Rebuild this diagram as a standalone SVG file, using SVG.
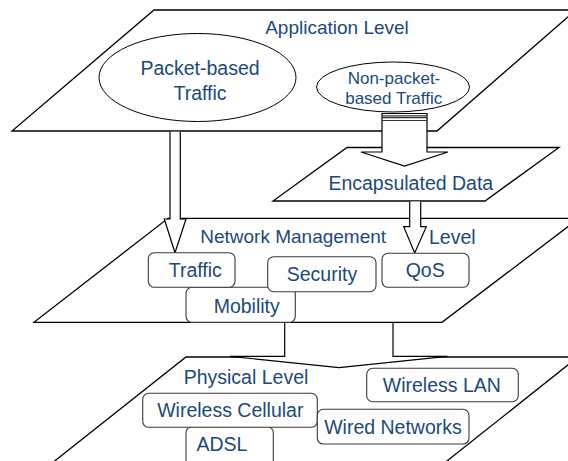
<svg xmlns="http://www.w3.org/2000/svg" width="568" height="461" viewBox="0 0 568 461">
<style>
.plane{fill:#fff;stroke:#000;stroke-width:1.3;stroke-linejoin:miter}
.ell{fill:#fff;stroke:#000;stroke-width:1}
.arr{fill:#fff;stroke:#000;stroke-width:1.2;stroke-linejoin:miter}
.node{fill:#fff;stroke:#3a3a3a;stroke-width:1.1}
.t{font-family:"Liberation Sans",Arial,sans-serif;font-size:19.5px;fill:#1b4a7a;text-anchor:middle}
.stripe{stroke:#333;stroke-width:1.2}
</style>
<rect width="568" height="461" fill="#fff"/>
<g id="application-level">
<polygon class="plane" points="154,10 576,10 437,131 12,131"/>
<text class="t" x="337" y="34" style="font-size:19px">Application Level</text>
</g>
<g id="packet-based-traffic">
<ellipse class="ell" cx="197.5" cy="77.5" rx="98.5" ry="44"/>
<text class="t" x="200" y="75">Packet-based</text>
<text class="t" x="200" y="100">Traffic</text>
</g>
<g id="non-packet-based-traffic">
<ellipse class="ell" cx="393" cy="87" rx="76.5" ry="25"/>
<text class="t" x="394" y="84" style="font-size:17px">Non-packet-</text>
<text class="t" x="393.7" y="104" style="font-size:17px">based Traffic</text>
</g>
<g id="encapsulated-data">
<polygon class="plane" points="347,147.5 559,147.5 485,201 273,201"/>
<text class="t" x="410.8" y="190">Encapsulated Data</text>
</g>
<g id="network-management-level">
<polygon class="plane" points="168,218.3 579,218.3 442,322.3 34,322.3"/>
<text class="t" x="293.2" y="243" style="font-size:19px">Network Management</text>
<text class="t" x="452.3" y="243.5">Level</text>
</g>
<g id="connectors">
<path class="arr" d="M382,113.5 L382,152 L361,152 L404.5,166 L448,152 L427,152 L427,113.5 Z"/>
<line class="stripe" x1="382" y1="115.8" x2="427" y2="115.8"/>
<line class="stripe" x1="382" y1="117.6" x2="427" y2="117.6"/>
<line class="stripe" x1="382" y1="120.5" x2="427" y2="120.5"/>
<path class="arr" d="M170,131.8 L170,219 L164.3,219 L175,252.7 L186,219 L180.3,219 L180.3,131.8"/>
<path class="arr" d="M409.7,201.5 L409.7,226.7 L403.7,226.7 L414.7,253 L426.3,226.7 L420.7,226.7 L420.7,201.5"/>
</g>
<g id="mobility">
<rect class="node" x="186" y="287.3" width="109.3" height="35" rx="6"/>
<text class="t" x="246.7" y="312.5">Mobility</text>
</g>
<g id="traffic">
<rect class="node" x="148.3" y="252.7" width="86.7" height="34.6" rx="6"/>
<text class="t" x="195.3" y="277">Traffic</text>
</g>
<g id="security">
<rect class="node" x="267.7" y="256.7" width="108.3" height="35" rx="6"/>
<text class="t" x="322" y="281">Security</text>
</g>
<g id="qos">
<rect class="node" x="382" y="253.3" width="87" height="34" rx="6"/>
<text class="t" x="425.2" y="277">QoS</text>
</g>
<g id="physical-level">
<polygon class="plane" points="186,357 578,357 435.6,470 43.3,470"/>
<text class="t" x="246" y="384">Physical Level</text>
</g>
<g id="connectors-lower">
<path class="arr" d="M284.7,323 L284.7,356.3 L230,356.3 L339,367.7 L447.3,356.3 L393,356.3 L393,323"/>
</g>
<g id="wireless-lan">
<rect class="node" x="366.7" y="368.3" width="151.6" height="33.4" rx="6"/>
<text class="t" x="441.8" y="392">Wireless LAN</text>
</g>
<g id="adsl">
<rect class="node" x="186" y="426.7" width="87.3" height="40" rx="6"/>
<text class="t" x="222" y="451">ADSL</text>
</g>
<g id="wireless-cellular">
<rect class="node" x="142.7" y="393.3" width="174.6" height="34" rx="6"/>
<text class="t" x="230.3" y="417">Wireless Cellular</text>
</g>
<g id="wired-networks">
<rect class="node" x="317.3" y="409.3" width="151.7" height="34.7" rx="6"/>
<text class="t" x="393" y="433.5">Wired Networks</text>
</g>
</svg>
